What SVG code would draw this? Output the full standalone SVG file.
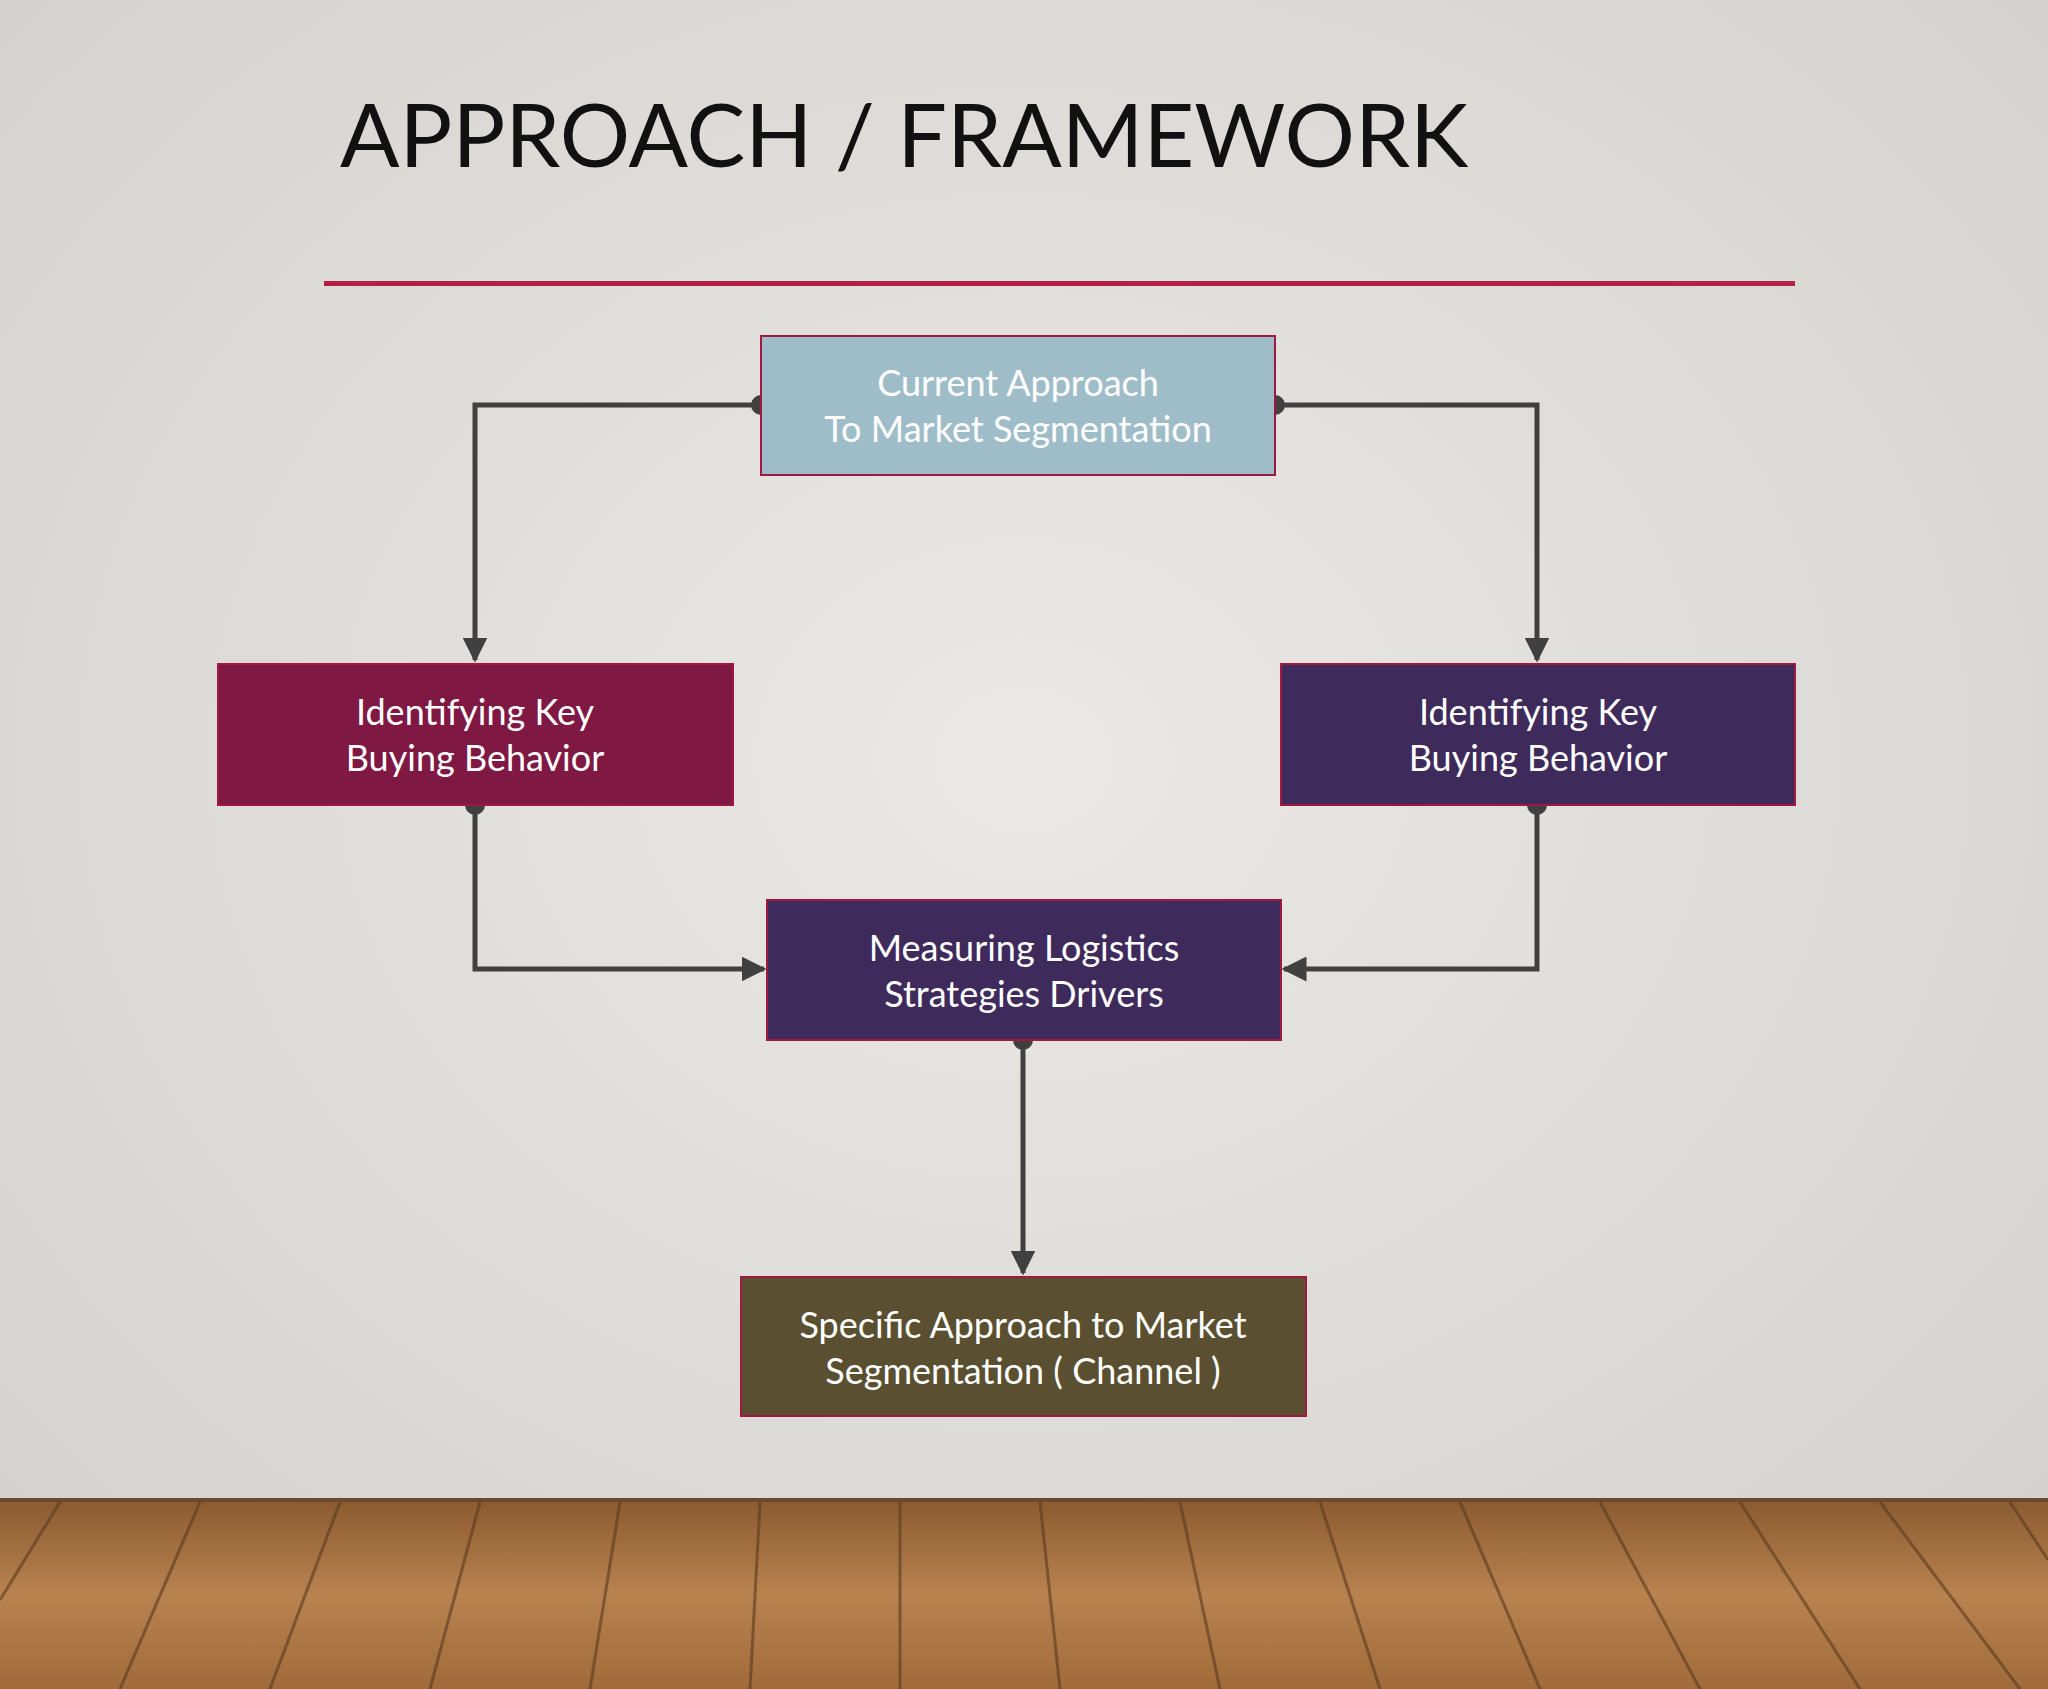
<svg xmlns="http://www.w3.org/2000/svg" width="2048" height="1689" viewBox="0 0 2048 1689">
<defs>
<radialGradient id="bg" cx="0.5" cy="0.45" r="0.7"><stop offset="0" stop-color="#ebe8e5"/><stop offset="1" stop-color="#d3d2ce"/></radialGradient>
<linearGradient id="wood" x1="0" y1="0" x2="0" y2="1"><stop offset="0" stop-color="#8a5a30"/><stop offset="0.5" stop-color="#b98350"/><stop offset="1" stop-color="#a06a3a"/></linearGradient>
<marker id="ar" viewBox="0 0 10 10" refX="9" refY="5" markerWidth="5" markerHeight="5" orient="auto"><path d="M0,0 L10,5 L0,10 z" fill="#404040"/></marker>
<marker id="dot" viewBox="0 0 10 10" refX="5" refY="5" markerWidth="4" markerHeight="4"><circle cx="5" cy="5" r="5" fill="#404040"/></marker>
</defs>
<style>
.box{stroke:#a0173f;stroke-width:2}
.t{font-family:Lato,"Open Sans",sans-serif;font-size:36px;fill:#fff;text-anchor:middle}
.c{fill:none;stroke:#404040;stroke-width:5;marker-start:url(#dot);marker-end:url(#ar)}
</style>
<rect width="2048" height="1689" fill="url(#bg)"/>
<rect y="1500" width="2048" height="189" fill="url(#wood)"/>
<rect y="1498" width="2048" height="4" fill="#6b4a30"/>
<g stroke="#5a3a1e" stroke-width="3" opacity="0.6">
<line x1="60" y1="1502" x2="0" y2="1600"/><line x1="200" y1="1502" x2="120" y2="1689"/><line x1="340" y1="1502" x2="270" y2="1689"/><line x1="480" y1="1502" x2="430" y2="1689"/><line x1="620" y1="1502" x2="590" y2="1689"/><line x1="760" y1="1502" x2="750" y2="1689"/><line x1="900" y1="1502" x2="900" y2="1689"/><line x1="1040" y1="1502" x2="1060" y2="1689"/><line x1="1180" y1="1502" x2="1220" y2="1689"/><line x1="1320" y1="1502" x2="1380" y2="1689"/><line x1="1460" y1="1502" x2="1540" y2="1689"/><line x1="1600" y1="1502" x2="1700" y2="1689"/><line x1="1740" y1="1502" x2="1860" y2="1689"/><line x1="1880" y1="1502" x2="2020" y2="1689"/><line x1="2010" y1="1502" x2="2048" y2="1560"/>
</g>
<text x="340" y="167" font-family="Lato,'Open Sans',sans-serif" font-size="88" fill="#111">APPROACH / FRAMEWORK</text>
<rect x="324" y="281" width="1471" height="5" fill="#b51f47"/>
<g id="connectors">
<path class="c" d="M761,405 H475 V660"/>
<path class="c" d="M1275,405 H1537 V660"/>
<path class="c" d="M475,805 V969 H764"/>
<path class="c" d="M1537,805 V969 H1284"/>
<path class="c" d="M1023,1040 V1273"/>
</g>
<g id="n1"><rect class="box" x="761" y="336" width="514" height="139" fill="#9fbdc8"/><text class="t" x="1018" y="396">Current Approach</text><text class="t" x="1018" y="442">To Market Segmentation</text></g>
<g id="n2"><rect class="box" x="218" y="664" width="515" height="141" fill="#7f1843"/><text class="t" x="475" y="725">Identifying Key</text><text class="t" x="475" y="771">Buying Behavior</text></g>
<g id="n3"><rect class="box" x="1281" y="664" width="514" height="141" fill="#3f2a5c"/><text class="t" x="1538" y="725">Identifying Key</text><text class="t" x="1538" y="771">Buying Behavior</text></g>
<g id="n4"><rect class="box" x="767" y="900" width="514" height="140" fill="#3f2a5c"/><text class="t" x="1024" y="961">Measuring Logistics</text><text class="t" x="1024" y="1007">Strategies Drivers</text></g>
<g id="n5"><rect class="box" x="741" y="1277" width="565" height="139" fill="#5a4f30"/><text class="t" x="1023" y="1338">Specific Approach to Market</text><text class="t" x="1023" y="1384">Segmentation ( Channel )</text></g>
</svg>
